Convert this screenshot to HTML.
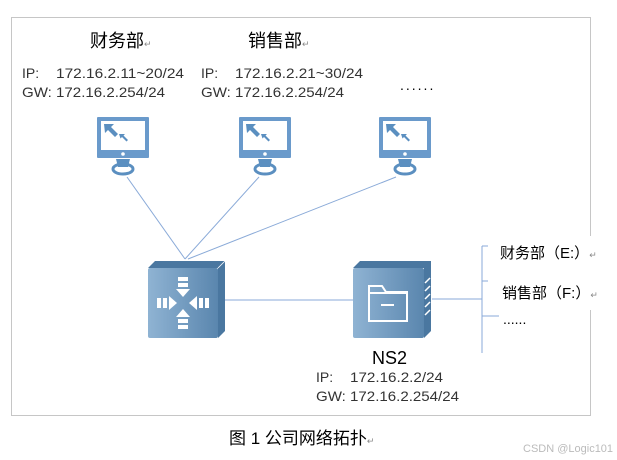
<!DOCTYPE html>
<html><head><meta charset="utf-8"><style>
body{margin:0;background:#fff;width:617px;height:460px;overflow:hidden}
svg{display:block}
text{font-family:"Liberation Sans","Noto Sans CJK SC",sans-serif}
</style></head><body>
<svg width="617" height="460" viewBox="0 0 617 460">
<defs>
<linearGradient id="g" x1="0" x2="1" y1="0" y2="0"><stop offset="0" stop-color="#8fb3d3"/><stop offset="1" stop-color="#5a86ae"/></linearGradient>
<g id="mon">
<rect x="-26" y="0" width="52" height="41" fill="#6a9acb" rx="1"/>
<rect x="-22" y="4" width="44" height="29" fill="#fff"/>
<path d="M-19 7 L-9 7 L-12 10 L-5 17 L-8 20 L-15 13 L-18 16 Z" fill="#5b8fc0"/>
<path d="M-4 17 L2 17 L0.5 18.5 L5 23 L3.5 24.5 L-1 20 L-2.5 21.5 Z" fill="#5b8fc0"/>
<circle cx="0" cy="37" r="1.8" fill="#fff"/>
<path d="M-7 42 L7 42 L5 50 L-5 50 Z" fill="#5b8fc0"/>
<ellipse cx="0" cy="52" rx="10" ry="5" fill="none" stroke="#5b8fc0" stroke-width="3"/>
</g>
</defs>
<rect x="11.5" y="17.5" width="579" height="398" fill="none" stroke="#c6c6c6"/>
<rect x="580" y="236" width="20" height="74" fill="#fff"/>
<text x="90" y="47" font-size="18" fill="#000">财务部<tspan font-size="9" fill="#888">↵</tspan></text>
<text x="248" y="47" font-size="18" fill="#000">销售部<tspan font-size="9" fill="#888">↵</tspan></text>
<g font-size="14" fill="#333">
<text x="22" y="78">IP:</text><text x="56" y="78" textLength="128" lengthAdjust="spacingAndGlyphs">172.16.2.11~20/24</text>
<text x="22" y="97" textLength="143" lengthAdjust="spacingAndGlyphs">GW: 172.16.2.254/24</text>
<text x="201" y="78">IP:</text><text x="235" y="78" textLength="128" lengthAdjust="spacingAndGlyphs">172.16.2.21~30/24</text>
<text x="201" y="97" textLength="143" lengthAdjust="spacingAndGlyphs">GW: 172.16.2.254/24</text>
</g>
<text x="400" y="90" font-size="14" fill="#000" letter-spacing="2">......</text>
<use href="#mon" x="123" y="117"/>
<use href="#mon" x="265" y="117"/>
<use href="#mon" x="405" y="117"/>
<g stroke="#8aaad8" stroke-width="1" fill="none">
<line x1="127" y1="177" x2="185" y2="259"/>
<line x1="259" y1="177" x2="185" y2="259"/>
<line x1="396" y1="177" x2="188" y2="259"/>
<line x1="225" y1="300" x2="355" y2="300"/>
<line x1="432" y1="299" x2="482" y2="299"/>
<line x1="482" y1="246" x2="482" y2="353"/>
<line x1="482" y1="246" x2="488" y2="246"/>
<line x1="482" y1="281" x2="488" y2="281"/>
<line x1="482" y1="316" x2="499" y2="316"/>
</g>
<path d="M155 261 L225 261 L225 331 L218 338 L218 268 L148 268 Z" fill="#4a77a0"/>
<rect x="148" y="268" width="70" height="70" rx="2" fill="url(#g)"/>
<line x1="218" y1="268" x2="225" y2="261" stroke="#fff" stroke-width="0.8"/>
<g fill="#fff">
<rect x="178" y="277" width="10" height="4"/><rect x="178" y="283" width="10" height="4"/><path d="M176 289 L190 289 L183 297 Z"/>
<rect x="178" y="325" width="10" height="4"/><rect x="178" y="319" width="10" height="4"/><path d="M176 317 L190 317 L183 309 Z"/>
<rect x="157" y="298" width="4" height="10"/><rect x="163" y="298" width="4" height="10"/><path d="M169 296 L169 310 L177 303 Z"/>
<rect x="205" y="298" width="4" height="10"/><rect x="199" y="298" width="4" height="10"/><path d="M197 296 L197 310 L189 303 Z"/>
</g>
<path d="M360 261 L431 261 L431 331 L424 338 L424 268 L353 268 Z" fill="#4a77a0"/>
<rect x="353" y="268" width="71" height="70" rx="2" fill="url(#g)"/>
<g stroke="#fff" stroke-width="1.5"><line x1="425" y1="283" x2="430" y2="278"/><line x1="425" y1="291" x2="430" y2="286"/><line x1="425" y1="299" x2="430" y2="294"/><line x1="425" y1="307" x2="430" y2="302"/><line x1="425" y1="315" x2="430" y2="310"/></g>
<path d="M369 286 L369 321 L407 321 L407 292 L386 292 L382 286 Z M369 293 L407 293" fill="none" stroke="#fff" stroke-width="2"/>
<line x1="381" y1="305" x2="394" y2="305" stroke="#fff" stroke-width="2"/>
<text x="372" y="364" font-size="18" fill="#000">NS2</text>
<g font-size="14" fill="#333">
<text x="316" y="382">IP:</text><text x="350" y="382" textLength="93" lengthAdjust="spacingAndGlyphs">172.16.2.2/24</text>
<text x="316" y="401" textLength="143" lengthAdjust="spacingAndGlyphs">GW: 172.16.2.254/24</text>
</g>
<g font-size="15" fill="#000">
<text x="500" y="258">财务部（E:）<tspan font-size="9" fill="#888">↵</tspan></text>
<text x="502" y="298">销售部（F:）<tspan font-size="9" fill="#888">↵</tspan></text>
<text x="503" y="324" font-size="14">......</text>
</g>
<text x="229" y="444" font-size="17" fill="#000">图 1 公司网络拓扑<tspan font-size="9" fill="#888">↵</tspan></text>
<text x="523" y="452" font-size="11" fill="#bbb">CSDN @Logic101</text>
</svg>
</body></html>
